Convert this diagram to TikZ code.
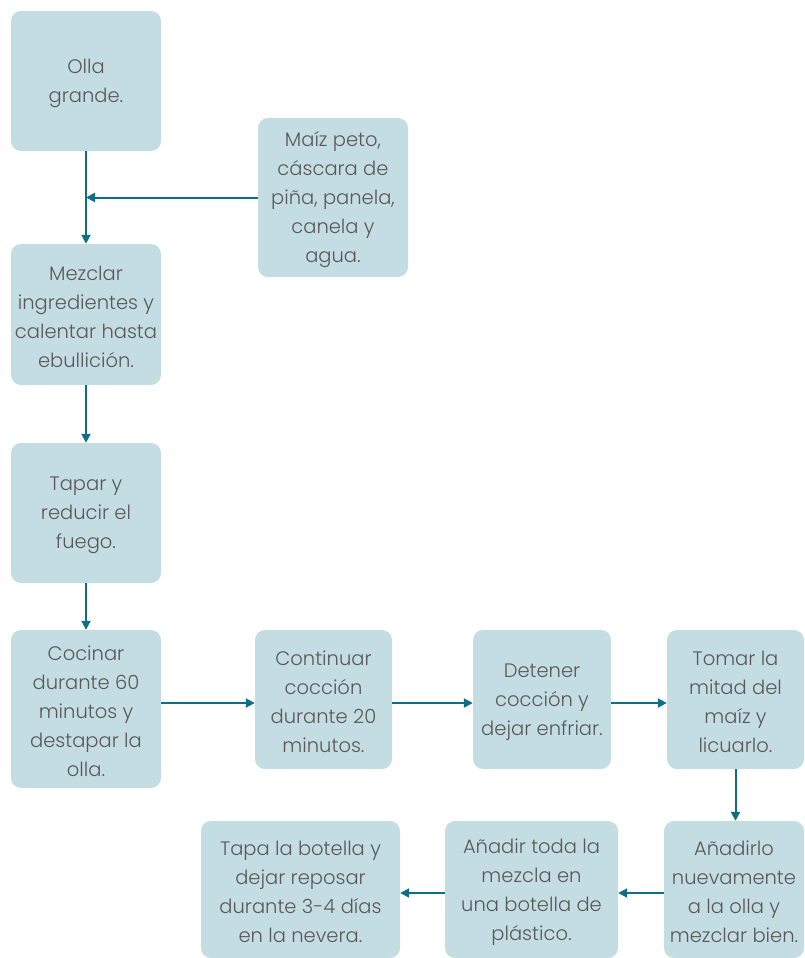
\documentclass[tikz,border=0pt]{standalone}
\usepackage{fontspec}
\setmainfont{Poppins}[UprightFont={* Light}]
\usetikzlibrary{arrows.meta}
\definecolor{boxfill}{HTML}{C4DDE3}
\definecolor{arrowc}{HTML}{0E6E85}
\definecolor{txt}{HTML}{595959}
\begin{document}
\begin{tikzpicture}[x=1pt,y=-1pt,
  stepbox/.style={fill=boxfill,rounded corners=10pt,inner sep=0pt},
  steptext/.style={text=txt,align=center,inner sep=0pt,font=\fontsize{19.5}{29}\selectfont},
  conn/.style={draw=arrowc,line width=2pt,-{Triangle[length=9pt,width=9pt]}}]
\useasboundingbox (0,0) rectangle (804,958);
\newcommand{\mybox}[5]{\node[stepbox,minimum width=#3pt,minimum height=#4pt] (#1) at (#2) {};
  \node[steptext] (#1t) at ([yshift=-2.5pt]#1.center) {#5};}
\mybox{b1}{86,81}{150}{140}{Olla\\grande.}
\mybox{b2}{333,197.5}{150}{159}{Maíz peto,\\cáscara de\\piña, panela,\\canela y\\agua.}
\mybox{b3}{86,314.5}{150}{141}{Mezclar\\ingredientes y\\calentar hasta\\ebullición.}
\mybox{b4}{86,513}{150}{140}{Tapar y\\reducir el\\fuego.}
\mybox{b5}{86,709}{150}{158}{Cocinar\\durante 60\\minutos y\\destapar la\\olla.}
\mybox{b6}{323.5,699.5}{137}{139}{Continuar\\cocción\\durante 20\\minutos.}
\mybox{b7}{542,699.5}{138}{139}{Detener\\cocción y\\dejar enfriar.}
\mybox{b8}{735.5,699.5}{137}{139}{Tomar la\\mitad del\\maíz y\\licuarlo.}
\mybox{b9}{734,889.5}{140}{137}{Añadirlo\\nuevamente\\a la olla y\\mezclar bien.}
\mybox{b10}{531.5,889.5}{173}{137}{Añadir toda la\\mezcla en\\una botella de\\plástico.}
\mybox{b11}{300.5,889.5}{199}{137}{Tapa la botella y\\dejar reposar\\durante 3-4 días\\en la nevera.}
\coordinate (j) at (b2.west -| b1.south);
\draw[conn] (b1.south) -- (b3.north);
\draw[conn] (b2.west) -- (j);
\draw[conn] (b3.south) -- (b4.north);
\draw[conn] (b4.south) -- (b5.north);
\draw[conn] (b5.east |- 0,703) -- (b6.west |- 0,703);
\draw[conn] (b6.east |- 0,703) -- (b7.west |- 0,703);
\draw[conn] (b7.east |- 0,703) -- (b8.west |- 0,703);
\draw[conn] (b8.south) -- (b9.north -| b8.south);
\draw[conn] (b9.west |- 0,893) -- (b10.east |- 0,893);
\draw[conn] (b10.west |- 0,893) -- (b11.east |- 0,893);
\end{tikzpicture}
\end{document}
